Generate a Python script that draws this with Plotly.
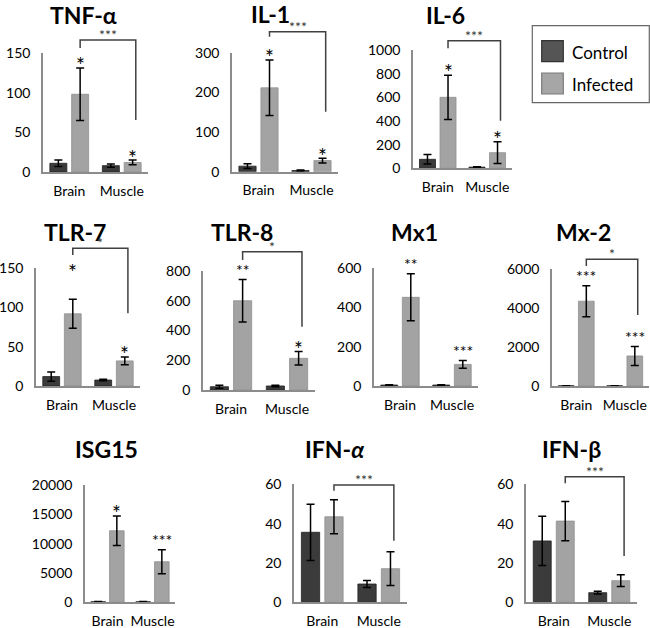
import plotly.graph_objects as go

# ---------------- data ----------------
panels = ["TNF-α", "IL-1", "IL-6", "TLR-7", "TLR-8", "Mx1", "Mx-2", "ISG15", "IFN-<i>α</i>", "IFN-β"]
tissues = ["Brain", "Muscle"]
series = ["Control", "Infected"]

control_brain = [11, 14, 76, 12, 22, 5, 10, 100, 35.6, 31.2]
control_brain_err = [4, 6, 40, 6, 10, 2, 5, 50, 14.3, 12.5]
control_muscle = [8, 3, 10, 7.6, 27, 5, 10, 100, 9.3, 4.9]
control_muscle_err = [2, 1, 4, 1, 5, 2, 5, 50, 1.8, 0.7]
infected_brain = [98, 212, 600, 92, 600, 452, 4350, 12200, 43.5, 41.3]
infected_brain_err = [33, 70, 187, 18.5, 143, 120, 795, 2500, 8.7, 10]
infected_muscle = [12, 28, 132, 32, 213, 110, 1540, 6920, 17.1, 11]
infected_muscle_err = [3, 6, 92, 5, 45, 20, 490, 2050, 8.6, 3]

y_max = [150, 300, 1000, 150, 800, 600, 6000, 20000, 60, 60]
y_dtick = [50, 100, 200, 50, 200, 200, 2000, 5000, 20, 20]

brain_star = ["*", "*", "*", "*", "**", "**", "***", "*", "", ""]
muscle_star = ["*", "*", "*", "*", "*", "***", "***", "***", "", ""]

bracket_label = ["***", "***", "***", "*", "*", "", "*", "", "***", "***"]
bracket_top = [166.4, 353.8, 1078.6, 175.5, 929.7, None, 6497, None, 59.6, 63.9]
bracket_left_end = [156.3, 341, 1014, 167, 874, None, 6154, None, 56.7, 60.5]
bracket_right_end = [65.6, 151.6, 402, 92.7, 425.5, None, 3641, None, 31.3, 23.5]

# ---------------- layout geometry (pixels) ----------------
W, H = 650, 628
# left, right, top, bottom of each plot area
boxes = [
    (43, 148, 53, 172), (232, 338, 53, 171.7), (413, 512, 50, 168.3),
    (36, 140, 268.3, 386), (203, 315, 271, 390), (374, 478, 268.3, 386), (552, 649, 269, 386),
    (85, 175, 485, 602.3), (294, 407, 484.3, 602.3), (526, 637, 484.3, 602.3),
]
title_pos = [(83, 14.5), (270, 14), (445, 14.5), (75, 232), (241.7, 232), (414, 232),
             (583, 232), (106.7, 449), (335, 449), (571.7, 449)]

FONT = "Lato, Carlito, 'Open Sans', sans-serif"
C_CTRL = "#3b3b3b"
C_INF = "#a3a3a3"
AXIS_C = "#8c8c8c"
BARGAP = 0.17
OFF = (1 - BARGAP) / 4  # offset of each bar centre from category centre

fig = go.Figure()
shapes = []
annotations = []


def fx(pos):
    return (pos + 0.5) / 2.0


for i, name in enumerate(panels):
    k = i + 1
    xa = "x" if k == 1 else f"x{k}"
    ya = "y" if k == 1 else f"y{k}"
    l, r, t, b = boxes[i]
    fig.add_trace(go.Bar(
        x=tissues, y=[control_brain[i], control_muscle[i]], name=series[0],
        marker=dict(color=C_CTRL, line=dict(color="#222222", width=0.8)),
        error_y=dict(type="data", array=[control_brain_err[i], control_muscle_err[i]],
                     color="black", thickness=1.5, width=4),
        xaxis=xa, yaxis=ya, showlegend=False, offsetgroup="c"))
    fig.add_trace(go.Bar(
        x=tissues, y=[infected_brain[i], infected_muscle[i]], name=series[1],
        marker=dict(color=C_INF, line=dict(color="#8f8f8f", width=0.8)),
        error_y=dict(type="data", array=[infected_brain_err[i], infected_muscle_err[i]],
                     color="black", thickness=1.5, width=4),
        xaxis=xa, yaxis=ya, showlegend=False, offsetgroup="i"))

    xkey = "xaxis" if k == 1 else f"xaxis{k}"
    ykey = "yaxis" if k == 1 else f"yaxis{k}"
    fig.update_layout(**{
        xkey: dict(domain=[l / W, r / W], anchor=ya, type="category", range=[-0.5, 1.5],
                   showline=True, linecolor=AXIS_C, linewidth=1.5, showgrid=False,
                   ticks="outside", ticklen=5, tickcolor="rgba(0,0,0,0)", automargin=False,
                   tickfont=dict(family=FONT, size=14, color="black"), fixedrange=True),
        ykey: dict(domain=[1 - b / H, 1 - t / H], anchor=xa, range=[0, y_max[i]],
                   dtick=y_dtick[i], tickformat="d", showline=True, linecolor=AXIS_C,
                   linewidth=1.5, showgrid=False, zeroline=False, automargin=False,
                   ticks="outside", ticklen=8, tickcolor="rgba(0,0,0,0)",
                   tickfont=dict(family=FONT, size=14, color="black"), fixedrange=True),
    })

    xd = f"{xa} domain"
    yd = f"{ya} domain"
    ym = y_max[i]

    # title
    tx, ty = title_pos[i]
    annotations.append(dict(x=tx / W, y=1 - ty / H, xref="paper", yref="paper", text=f"<b>{name}</b>",
                            showarrow=False, xanchor="center", yanchor="middle",
                            font=dict(family=FONT, size=23, color="black")))

    # significance stars over infected bars
    for pos, lab, top in [(0, brain_star[i], infected_brain[i] + infected_brain_err[i]),
                          (1, muscle_star[i], infected_muscle[i] + infected_muscle_err[i])]:
        if lab:
            if len(lab) == 1:
                lift = 4 if pos == 0 else 3
            else:
                lift = 10
            if name == "TLR-7" and pos == 0:
                lift = 28
            annotations.append(dict(x=fx(pos + OFF), y=top / ym, xref=xd, yref=yd, text=lab,
                                    showarrow=False, xanchor="center", yanchor="middle", yshift=lift,
                                    font=dict(family=FONT, size=21 if len(lab) == 1 else 16, color="black")))

    # bracket between infected brain and infected muscle
    if bracket_label[i]:
        xl, xr = fx(0 + OFF), fx(1 + OFF + 0.06)
        yt = bracket_top[i] / ym
        shapes.append(dict(type="path", xref=xd, yref=yd,
                           path=f"M {xl} {bracket_left_end[i] / ym} L {xl} {yt} L {xr} {yt} L {xr} {bracket_right_end[i] / ym}",
                           line=dict(color="#404040", width=1.5)))
        annotations.append(dict(x=(xl + xr) / 2, y=yt, xref=xd, yref=yd, text=bracket_label[i],
                                showarrow=False, xanchor="center", yanchor="bottom", yshift=-5,
                                font=dict(family=FONT, size=14, color="#333333")))

# ---------------- legend (drawn) ----------------
shapes.append(dict(type="rect", xref="paper", yref="paper", x0=532.3 / W, x1=649.3 / W,
                   y0=1 - 102.7 / H, y1=1 - 25.7 / H, line=dict(color="#666666", width=1.2),
                   fillcolor="white"))
for j, (nm, col, lc, yc) in enumerate([(series[0], "#555555", "#333333", 51.2),
                                       (series[1], "#a6a6a6", "#7a7a7a", 83.5)]):
    shapes.append(dict(type="rect", xref="paper", yref="paper", x0=541.7 / W, x1=563.3 / W,
                       y0=1 - (yc + 10.5) / H, y1=1 - (yc - 10.5) / H,
                       line=dict(color=lc, width=1.2), fillcolor=col))
    annotations.append(dict(x=570 / W, y=1 - (yc + 1) / H, xref="paper", yref="paper", text=nm,
                            showarrow=False, xanchor="left", yanchor="middle",
                            font=dict(family=FONT, size=17, color="black")))

fig.update_layout(
    width=W, height=H, margin=dict(l=0, r=0, t=0, b=0, autoexpand=False),
    paper_bgcolor="white", plot_bgcolor="white",
    barmode="group", bargap=BARGAP, bargroupgap=0.22,
    shapes=shapes, annotations=annotations, showlegend=False,
    font=dict(family=FONT),
)

pin = ("document.body.style.margin='0';document.body.style.overflow='hidden';"
       "var d=document.getElementById('{plot_id}');d.style.position='fixed';"
       "d.style.left='0px';d.style.top='0px';")
fig.write_html("out.html", post_script=pin, config={"displayModeBar": False})
